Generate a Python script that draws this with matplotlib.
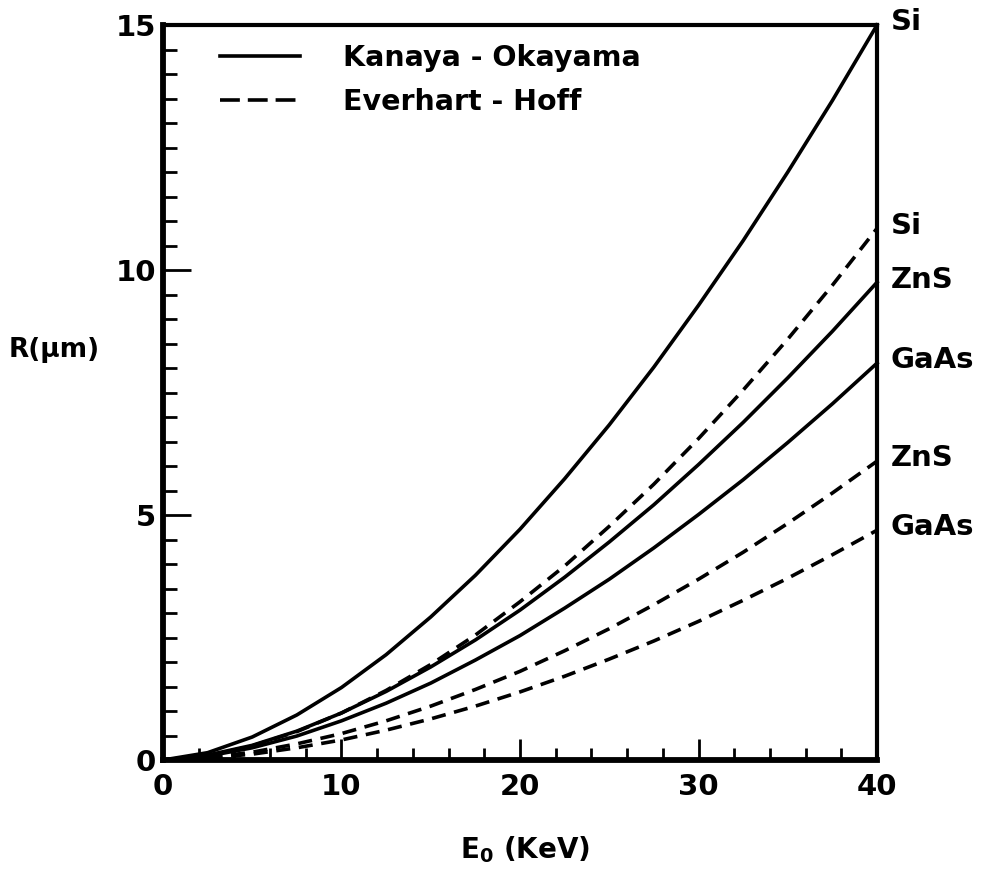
import matplotlib.pyplot as plt
from matplotlib.lines import Line2D
from matplotlib.ticker import MultipleLocator

# electron energy (keV) and range R (um)
energy = [0, 2.5, 5, 7.5, 10, 12.5, 15, 17.5, 20, 22.5, 25, 27.5, 30, 32.5, 35, 37.5, 40]

# Kanaya - Okayama (solid)
si_ko = [0, 0.15, 0.47, 0.92, 1.48, 2.15, 2.92, 3.77, 4.71, 5.74, 6.84, 8.02, 9.28, 10.60, 12.00, 13.46, 15.0]
zns_ko = [0, 0.10, 0.30, 0.59, 0.96, 1.40, 1.90, 2.45, 3.06, 3.73, 4.45, 5.21, 6.03, 6.89, 7.80, 8.75, 9.75]
gaas_ko = [0, 0.08, 0.25, 0.49, 0.80, 1.16, 1.57, 2.04, 2.54, 3.10, 3.69, 4.33, 5.01, 5.72, 6.48, 7.27, 8.1]

# Everhart - Hoff (dashed)
si_eh = [0, 0.08, 0.29, 0.58, 0.96, 1.42, 1.95, 2.55, 3.23, 3.96, 4.77, 5.63, 6.56, 7.55, 8.59, 9.69, 10.85]
zns_eh = [0, 0.05, 0.16, 0.33, 0.54, 0.80, 1.10, 1.44, 1.81, 2.23, 2.68, 3.17, 3.69, 4.24, 4.83, 5.45, 6.1]
gaas_eh = [0, 0.04, 0.12, 0.25, 0.41, 0.61, 0.84, 1.10, 1.39, 1.71, 2.06, 2.43, 2.83, 3.26, 3.71, 4.19, 4.69]

solid_curves = [('Si', si_ko), ('ZnS', zns_ko), ('GaAs', gaas_ko)]
dashed_curves = [('Si', si_eh), ('ZnS', zns_eh), ('GaAs', gaas_eh)]

fig = plt.figure(figsize=(9.98, 8.72), dpi=100)
ax = fig.add_axes([0.1633, 0.1284, 0.7155, 0.8429])

lw = 2.6
for name, r in solid_curves:
    ax.plot(energy, r, color='black', lw=lw, clip_on=False)
    ax.annotate(name, xy=(40, r[-1]), xytext=(10, 2), textcoords='offset points',
                va='center', ha='left', fontsize=21, fontweight='bold')
for name, r in dashed_curves:
    ax.plot(energy, r, color='black', lw=lw, dashes=(3.9, 2.4), clip_on=False)
    ax.annotate(name, xy=(40, r[-1]), xytext=(10, 2), textcoords='offset points',
                va='center', ha='left', fontsize=21, fontweight='bold')

ax.set_xlim(0, 40)
ax.set_ylim(0, 15)

ax.xaxis.set_major_locator(MultipleLocator(10))
ax.xaxis.set_minor_locator(MultipleLocator(2))
ax.yaxis.set_major_locator(MultipleLocator(5))
ax.yaxis.set_minor_locator(MultipleLocator(0.5))

ax.tick_params(axis='x', which='major', direction='in', length=15, width=2, pad=9)
ax.tick_params(axis='x', which='minor', direction='in', length=8.5, width=2)
ax.tick_params(axis='y', which='major', direction='in', length=20, width=2, pad=5)
ax.tick_params(axis='y', which='minor', direction='in', length=10, width=2)
ax.tick_params(top=False, right=False, which='both')
for lab in ax.get_xticklabels() + ax.get_yticklabels():
    lab.set_fontsize(21)
    lab.set_fontweight('bold')

ax.spines['left'].set_linewidth(4.2)
ax.spines['bottom'].set_linewidth(4.2)
ax.spines['top'].set_linewidth(3)
ax.spines['right'].set_linewidth(3)

ax.set_xlabel(r'$\mathbf{E_0}$ (KeV)', fontsize=20, fontweight='bold', va='center')
ax.xaxis.set_label_coords(0.507, -0.122)
ax.set_ylabel('R(\u03bcm)', fontsize=19, fontweight='bold', rotation=0, ha='center', va='center')
ax.yaxis.set_label_coords(-0.153, 0.558)

handles = [Line2D([], [], color='black', lw=lw),
           Line2D([], [], color='black', lw=lw, dashes=(5.5, 2.2))]
ax.legend(handles, ['Kanaya - Okayama', 'Everhart - Hoff'], loc='upper left',
          bbox_to_anchor=(0.08, 0.974), frameon=False, borderpad=0, borderaxespad=0,
          handlelength=2.8, handletextpad=1.5, labelspacing=0.56,
          prop={'size': 20.5, 'weight': 'bold'})

plt.savefig('out.png', dpi=100)
